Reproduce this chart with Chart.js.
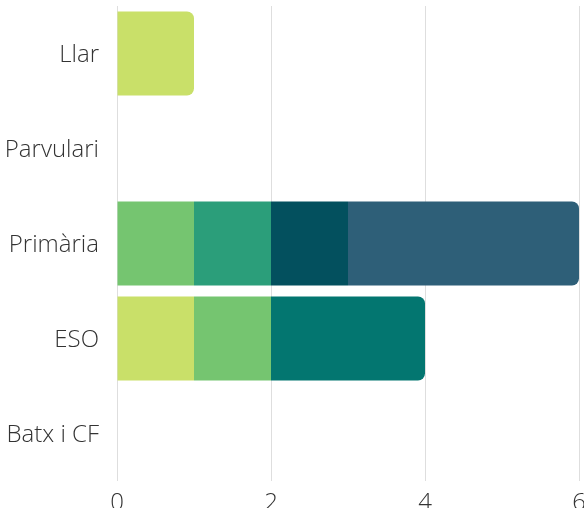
<!DOCTYPE html>
<html>
<head>
<meta charset="utf-8">
<script src="https://cdn.jsdelivr.net/npm/chart.js@4"></script>
<style>
  html, body { margin: 0; padding: 0; overflow: hidden; background: #fff; }
  #wrap { width: 584px; height: 508px; overflow: hidden; position: relative; }
  #barChart { position: absolute; left: 0; top: 0; }
</style>
</head>
<body>
<div id="wrap"><canvas id="barChart" width="586" height="521"></canvas></div>
<script>
// categories (y axis)
var etapes = ["Llar", "Parvulari", "Primària", "ESO", "Batx i CF"];

// series values, one per stacked segment
var serie1 = [1, 0, 0, 1, 0];
var serie2 = [0, 0, 1, 1, 0];
var serie3 = [0, 0, 1, 0, 0];
var serie4 = [0, 0, 0, 2, 0];
var serie5 = [0, 0, 1, 0, 0];
var serie6 = [0, 0, 3, 0, 0];

// x axis ticks
var xTicks = [0, 2, 4, 6];

var colors = ["#c9e069", "#75c570", "#2b9e7a", "#037670", "#03505e", "#2e5f78"];
var series = [serie1, serie2, serie3, serie4, serie5, serie6];

var ctx = document.getElementById("barChart").getContext("2d");

var datasets = series.map(function (values, i) {
  return {
    label: "Sèrie " + (i + 1),
    data: values,
    backgroundColor: colors[i],
    borderWidth: 0,
    borderRadius: 7,
    barPercentage: 0.884,
    categoryPercentage: 1,
  };
});

new Chart(ctx, {
  type: "bar",
  data: {
    labels: etapes,
    datasets: datasets,
  },
  options: {
    indexAxis: "y",
    responsive: false,
    animation: false,
    layout: {
      padding: { top: 6, right: 0, bottom: 0, left: 0 },
    },
    plugins: {
      legend: { display: false },
      tooltip: { enabled: false },
    },
    scales: {
      x: {
        stacked: true,
        min: 0,
        max: 6,
        afterBuildTicks: function (scale) {
          scale.ticks = xTicks.map(function (v) { return { value: v }; });
        },
        afterFit: function (scale) {
          scale.height = 40;
          scale.paddingRight = 7;
          scale.paddingLeft = 0;
        },
        grid: {
          color: "#dedede",
          lineWidth: 1,
          drawTicks: false,
        },
        border: { display: false },
        ticks: {
          padding: 8,
          color: "#333",
          font: { family: "'Open Sans'", size: 24, weight: 300 },
        },
      },
      y: {
        stacked: true,
        afterFit: function (scale) {
          scale.width = 117;
          scale.paddingTop = 0;
          scale.paddingBottom = 0;
        },
        grid: { display: false, drawTicks: false },
        border: { display: false },
        ticks: {
          padding: 18,
          labelOffset: 2,
          color: "#333",
          font: { family: "'Open Sans'", size: 24, weight: 300 },
        },
      },
    },
  },
});
</script>
</body>
</html>
